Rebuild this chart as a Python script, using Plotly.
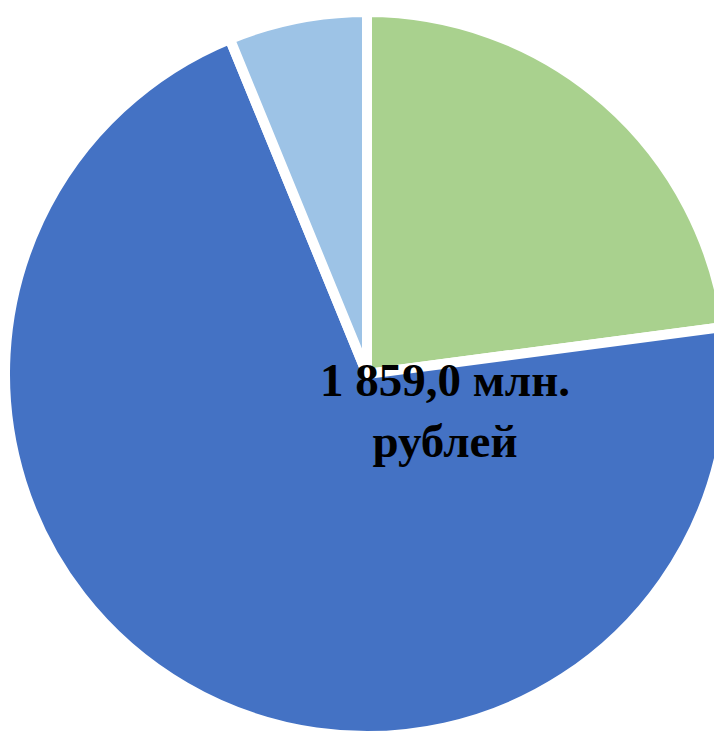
import plotly.graph_objects as go

labels = ["Зелёный", "Синий", "Голубой"]
values = [426.0, 1318.0, 115.0]
colors = ["#A9D18E", "#4472C4", "#9DC3E6"]
center_text = "<b>1 859,0 млн.<br>рублей</b>"

# figure slightly larger than the window so the pie is cropped like the reference
W, H = 740, 750

fig = go.Figure(go.Pie(
    labels=labels,
    values=values,
    sort=False,
    direction="clockwise",
    rotation=0,
    marker=dict(colors=colors, line=dict(color="white", width=10)),
    textinfo="none",
    hoverinfo="label+value",
    showlegend=False,
    domain=dict(x=[5 / W, 729 / W], y=[1 - 736 / H, 1 - 12 / H]),
))

fig.add_annotation(
    x=445 / W, y=1 - 410 / H, xref="paper", yref="paper",
    text=center_text, showarrow=False,
    font=dict(family="Liberation Serif", size=47, color="black"),
    align="center",
)

fig.update_layout(
    width=W, height=H,
    margin=dict(l=0, r=0, t=0, b=0),
    paper_bgcolor="white", plot_bgcolor="white",
)

fig.write_html(
    "out.html",
    config={"displayModeBar": False},
    post_script="document.body.style.margin='0';document.body.style.overflow='hidden';",
)
